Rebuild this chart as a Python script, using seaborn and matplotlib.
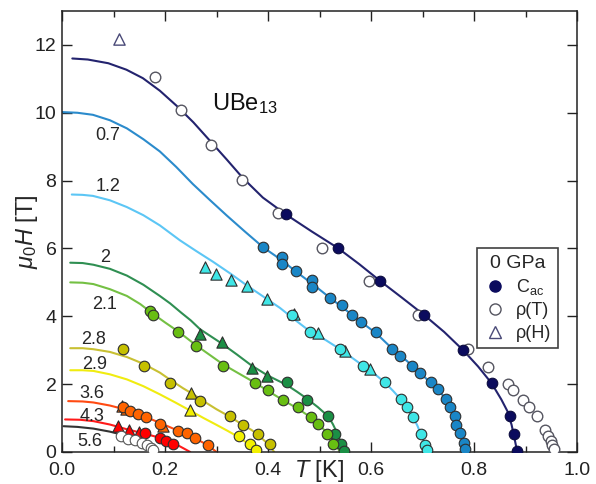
import matplotlib
matplotlib.use("Agg")
import matplotlib.pyplot as plt
import seaborn as sns
import pandas as pd
from matplotlib.lines import Line2D
from matplotlib.ticker import MultipleLocator

# ---------------- data (T in K, mu0H in T) ----------------
pressures = ["0", "0.7", "1.2", "2", "2.1", "2.8", "2.9", "3.6", "4.3", "5.6"]
line_colors = ["#23236e", "#2b8bcc", "#5cc6f5", "#2f8f52", "#74c043",
               "#c8c032", "#f0ec10", "#ff4a12", "#ff1a1a", "#333333"]
point_colors = ["#0b0b5e", "#1a86c6", "#3fe6e6", "#1b8f45", "#68be12",
                "#c6c000", "#f2f000", "#ff6400", "#ff0000", "#ffffff"]

# phase-boundary curves
line_T_0 = [0.02, 0.05, 0.09, 0.125, 0.157, 0.19, 0.223, 0.255, 0.287, 0.32, 0.351, 0.39, 0.435, 0.485,
            0.535, 0.577, 0.618, 0.66, 0.703, 0.742, 0.779, 0.808, 0.834, 0.853, 0.865, 0.873, 0.878, 0.884]
line_H_0 = [11.6, 11.57, 11.46, 11.27, 11.02, 10.65, 10.2, 9.72, 9.18, 8.62, 8.08, 7.5, 7.0, 6.5,
            6.02, 5.54, 5.04, 4.55, 4.04, 3.54, 3.0, 2.52, 2.03, 1.55, 1.2, 0.8, 0.45, 0.0]
line_T_07 = [0.0, 0.03, 0.06, 0.093, 0.126, 0.158, 0.19, 0.222, 0.254, 0.287, 0.32, 0.355, 0.391, 0.427,
             0.454, 0.485, 0.52, 0.55, 0.581, 0.61, 0.641, 0.67, 0.695, 0.715, 0.731, 0.746, 0.757,
             0.766, 0.773, 0.78, 0.785]
line_H_07 = [10.02, 10.0, 9.94, 9.78, 9.54, 9.22, 8.86, 8.4, 7.9, 7.43, 6.97, 6.5, 6.03, 5.65,
             5.32, 4.97, 4.55, 4.2, 3.83, 3.5, 3.05, 2.68, 2.34, 2.05, 1.82, 1.55, 1.3,
             0.9, 0.6, 0.3, 0.0]
line_T_12 = [0.019, 0.04, 0.06, 0.093, 0.126, 0.158, 0.19, 0.229, 0.26, 0.293, 0.326, 0.359, 0.391, 0.423,
             0.452, 0.482, 0.512, 0.540, 0.563, 0.585, 0.607, 0.627, 0.643, 0.658, 0.67, 0.681, 0.69,
             0.697, 0.704, 0.709]
line_H_12 = [7.59, 7.58, 7.55, 7.42, 7.22, 6.98, 6.68, 6.24, 5.93, 5.61, 5.27, 4.91, 4.58, 4.25,
             3.9, 3.55, 3.3, 3.03, 2.78, 2.54, 2.3, 2.05, 1.8, 1.55, 1.3, 1.04, 0.78,
             0.52, 0.25, 0.0]
line_T_2 = [0.016, 0.04, 0.061, 0.093, 0.126, 0.158, 0.19, 0.21, 0.232, 0.25, 0.268, 0.29, 0.31, 0.34,
            0.368, 0.40, 0.436, 0.456, 0.475, 0.497, 0.517, 0.526, 0.533, 0.54, 0.548]
line_H_2 = [5.58, 5.57, 5.52, 5.4, 5.2, 4.93, 4.6, 4.38, 4.1, 3.88, 3.62, 3.4, 3.2, 2.87,
            2.55, 2.25, 1.98, 1.78, 1.58, 1.32, 1.05, 0.82, 0.6, 0.33, 0.0]
line_T_21 = [0.016, 0.04, 0.061, 0.093, 0.126, 0.152, 0.177, 0.2, 0.226, 0.26, 0.287, 0.313, 0.345,
             0.375, 0.40, 0.43, 0.458, 0.483, 0.5, 0.515, 0.527, 0.535, 0.54]
line_H_21 = [5.0, 4.99, 4.95, 4.8, 4.6, 4.36, 4.07, 3.82, 3.55, 3.15, 2.86, 2.58, 2.3,
             2.04, 1.8, 1.52, 1.28, 1.02, 0.8, 0.55, 0.3, 0.12, 0.0]
line_T_28 = [0.016, 0.04, 0.061, 0.093, 0.126, 0.158, 0.19, 0.21, 0.235, 0.255, 0.28, 0.30, 0.326,
             0.351, 0.368, 0.381, 0.394, 0.404, 0.412]
line_H_28 = [3.06, 3.06, 3.03, 2.95, 2.8, 2.6, 2.34, 2.13, 1.88, 1.7, 1.45, 1.26, 1.04,
             0.8, 0.65, 0.5, 0.32, 0.17, 0.0]
line_T_29 = [0.016, 0.04, 0.061, 0.093, 0.126, 0.158, 0.19, 0.22, 0.249, 0.275, 0.30, 0.322, 0.343,
             0.358, 0.368, 0.376]
line_H_29 = [2.41, 2.41, 2.39, 2.29, 2.14, 1.94, 1.7, 1.46, 1.22, 1.0, 0.8, 0.62, 0.44,
             0.28, 0.15, 0.0]
line_T_36 = [0.012, 0.04, 0.061, 0.093, 0.126, 0.158, 0.19, 0.225, 0.258, 0.283, 0.30]
line_H_36 = [1.5, 1.49, 1.46, 1.37, 1.24, 1.06, 0.86, 0.63, 0.41, 0.2, 0.0]
line_T_43 = [0.006, 0.035, 0.061, 0.093, 0.126, 0.158, 0.19, 0.22, 0.249]
line_H_43 = [0.96, 0.95, 0.91, 0.81, 0.67, 0.55, 0.42, 0.24, 0.0]
line_T_56 = [0.003, 0.03, 0.061, 0.093, 0.119, 0.15, 0.171, 0.18]
line_H_56 = [0.76, 0.74, 0.69, 0.6, 0.5, 0.33, 0.17, 0.0]

# 0 GPa measurements
cac_T_0 = [0.435, 0.535, 0.618, 0.703, 0.779, 0.834, 0.870, 0.877, 0.883]
cac_H_0 = [7.03, 6.02, 5.04, 4.04, 3.0, 2.03, 1.05, 0.53, 0.04]
rhoT_T_0 = [0.18, 0.231, 0.289, 0.35, 0.419, 0.504, 0.596, 0.692, 0.789, 0.827, 0.866, 0.876, 0.896,
            0.907, 0.923, 0.937, 0.944, 0.949, 0.952, 0.955]
rhoT_H_0 = [11.05, 10.07, 9.04, 8.03, 7.06, 6.02, 5.04, 4.04, 3.03, 2.52, 2.0, 1.82, 1.52,
            1.34, 1.05, 0.65, 0.46, 0.32, 0.2, 0.09]
rhoH_T_0 = [0.11]
rhoH_H_0 = [12.18]

# circles (C_ac) for p > 0
circ_T_07 = [0.391, 0.427, 0.427, 0.454, 0.485, 0.485, 0.520, 0.543, 0.563, 0.581, 0.61, 0.641, 0.656, 0.679,
             0.695, 0.717, 0.731, 0.746, 0.753, 0.763, 0.766, 0.773, 0.781, 0.783]
circ_H_07 = [6.03, 5.75, 5.53, 5.34, 5.07, 4.86, 4.55, 4.33, 4.04, 3.82, 3.53, 3.03, 2.83, 2.54,
             2.34, 2.05, 1.85, 1.55, 1.34, 1.05, 0.81, 0.55, 0.26, 0.08]
circ_T_12 = [0.446, 0.482, 0.540, 0.585, 0.627, 0.658, 0.669, 0.681, 0.697, 0.705, 0.709]
circ_H_12 = [4.04, 3.55, 3.03, 2.54, 2.05, 1.55, 1.34, 1.04, 0.52, 0.22, 0.05]
circ_T_2 = [0.436, 0.475, 0.517, 0.531, 0.542, 0.547]
circ_H_2 = [2.06, 1.54, 1.05, 0.53, 0.25, 0.03]
circ_T_21 = [0.171, 0.177, 0.226, 0.26, 0.313, 0.375, 0.40, 0.43, 0.458, 0.483, 0.498, 0.515, 0.527]
circ_H_21 = [4.17, 4.03, 3.55, 3.13, 2.54, 2.04, 1.83, 1.53, 1.34, 1.04, 0.82, 0.53, 0.24]
circ_T_28 = [0.118, 0.159, 0.21, 0.267, 0.326, 0.351, 0.381, 0.404]
circ_H_28 = [3.03, 2.54, 2.03, 1.5, 1.06, 0.81, 0.54, 0.25]
circ_T_29 = [0.343, 0.366, 0.376]
circ_H_29 = [0.46, 0.25, 0.05]
circ_T_36 = [0.119, 0.132, 0.148, 0.163, 0.19, 0.225, 0.242, 0.258, 0.283]
circ_H_36 = [1.33, 1.22, 1.13, 1.03, 0.83, 0.62, 0.55, 0.42, 0.22]
circ_T_43 = [0.161, 0.19, 0.202, 0.216]
circ_H_43 = [0.55, 0.42, 0.33, 0.23]
circ_T_56 = [0.115, 0.128, 0.142, 0.155, 0.165, 0.172, 0.177]
circ_H_56 = [0.46, 0.39, 0.35, 0.28, 0.2, 0.12, 0.05]

# triangles (rho(H)) for p > 0
tri_T_12 = [0.278, 0.299, 0.328, 0.359, 0.399, 0.450, 0.498, 0.55, 0.598]
tri_H_12 = [5.45, 5.25, 5.07, 4.88, 4.51, 4.06, 3.52, 2.98, 2.44]
tri_T_2 = [0.268, 0.31, 0.368, 0.398]
tri_H_2 = [3.48, 3.25, 2.48, 2.23]
tri_T_28 = [0.25]
tri_H_28 = [1.73]
tri_T_29 = [0.249]
tri_H_29 = [1.25]
tri_T_36 = [0.116, 0.125, 0.197]
tri_H_36 = [1.36, 1.27, 0.76]
tri_T_43 = [0.109, 0.131, 0.149]
tri_H_43 = [0.77, 0.65, 0.6]

# pressure labels (GPa) and their positions
label_text = ["0.7", "1.2", "2", "2.1", "2.8", "2.9", "3.6", "4.3", "5.6"]
label_T = [0.089, 0.089, 0.083, 0.083, 0.061, 0.064, 0.058, 0.058, 0.054]
label_H = [9.34, 7.82, 5.74, 4.36, 3.33, 2.59, 1.73, 1.06, 0.32]

# ---------------- plotting ----------------
sns.set_style("ticks")
plt.rcParams["font.family"] = ["Liberation Sans", "DejaVu Sans"]
plt.rcParams["mathtext.fontset"] = "custom"
plt.rcParams["mathtext.rm"] = "Liberation Sans"
plt.rcParams["mathtext.it"] = "Liberation Sans:italic"

fig = plt.figure(figsize=(5.96, 4.84), dpi=100)
ax = fig.add_axes([62 / 596, 1 - 452 / 484, 515 / 596, 441 / 484])

lines = [(line_T_0, line_H_0), (line_T_07, line_H_07), (line_T_12, line_H_12),
         (line_T_2, line_H_2), (line_T_21, line_H_21), (line_T_28, line_H_28),
         (line_T_29, line_H_29), (line_T_36, line_H_36), (line_T_43, line_H_43),
         (line_T_56, line_H_56)]
for (lt, lh), c in zip(lines, line_colors):
    df = pd.DataFrame({"T": lt, "H": lh})
    sns.lineplot(data=df, x="T", y="H", sort=False, estimator=None, color=c,
                 lw=1.5, ax=ax, zorder=2)

edge = "#2e2e2e"
ms = 58
circ_sets = [("0.7", circ_T_07, circ_H_07), ("1.2", circ_T_12, circ_H_12),
             ("2", circ_T_2, circ_H_2), ("2.1", circ_T_21, circ_H_21),
             ("2.8", circ_T_28, circ_H_28), ("2.9", circ_T_29, circ_H_29),
             ("3.6", circ_T_36, circ_H_36), ("4.3", circ_T_43, circ_H_43),
             ("5.6", circ_T_56, circ_H_56)]
tri_sets = [("1.2", tri_T_12, tri_H_12), ("2", tri_T_2, tri_H_2),
            ("2.8", tri_T_28, tri_H_28), ("2.9", tri_T_29, tri_H_29),
            ("3.6", tri_T_36, tri_H_36), ("4.3", tri_T_43, tri_H_43)]

for p, tt, hh in tri_sets:
    c = point_colors[pressures.index(p)]
    sns.scatterplot(x=tt, y=hh, marker="^", s=ms + 8, color=c, edgecolor=edge,
                    linewidth=0.8, ax=ax, zorder=3)
for p, tt, hh in circ_sets:
    c = point_colors[pressures.index(p)]
    ec = "#555555" if p == "5.6" else edge
    sns.scatterplot(x=tt, y=hh, marker="o", s=ms, color=c, edgecolor=ec,
                    linewidth=0.8, ax=ax, zorder=4)

# 0 GPa
sns.scatterplot(x=rhoT_T_0, y=rhoT_H_0, marker="o", s=ms, color="white",
                edgecolor="#555560", linewidth=1.0, ax=ax, zorder=4)
sns.scatterplot(x=rhoH_T_0, y=rhoH_H_0, marker="^", s=ms + 8, color="white",
                edgecolor="#4a4a78", linewidth=1.0, ax=ax, zorder=4)
sns.scatterplot(x=cac_T_0, y=cac_H_0, marker="o", s=ms, color=point_colors[0],
                edgecolor="#0b0b3e", linewidth=0.8, ax=ax, zorder=5)

for t, x, y in zip(label_text, label_T, label_H):
    ax.text(x, y, t, fontsize=13, color="#262626", ha="center", va="center")
ax.text(0.355, 10.28, "UBe$_{13}$", fontsize=17, color="#111111",
        ha="center", va="center")

ax.set_xlim(0, 1.0)
ax.set_ylim(0, 13)
ax.xaxis.set_major_locator(MultipleLocator(0.2))
ax.xaxis.set_minor_locator(MultipleLocator(0.1))
ax.yaxis.set_major_locator(MultipleLocator(2))
ax.set_xticks([0.0, 0.2, 0.4, 0.6, 0.8, 1.0])
ax.set_xticklabels(["0.0", "0.2", "0.4", "0.6", "0.8", "1.0"])
ax.tick_params(which="both", direction="in", top=True, right=True,
               labelsize=14, width=1.0, colors="#222222")
ax.tick_params(axis="x", which="major", length=7, pad=7)
ax.tick_params(axis="y", which="major", length=7, pad=4)
ax.tick_params(which="minor", length=4)
for s in ax.spines.values():
    s.set_linewidth(1.1)
    s.set_color("#222222")
    s.set_visible(True)

ax.set_xlabel("$T$ [K]", fontsize=17, labelpad=-15)
ax.set_ylabel("$\\mu_0H$ [T]", fontsize=17, labelpad=-4)

handles = [
    Line2D([], [], ls="none", marker="o", ms=8, mfc=point_colors[0], mec=point_colors[0]),
    Line2D([], [], ls="none", marker="o", ms=8, mfc="white", mec="#555560", mew=1.0),
    Line2D([], [], ls="none", marker="^", ms=8.5, mfc="white", mec="#4a4a78", mew=1.0),
]
leg = ax.legend(handles, ["C$_{\\mathrm{ac}}$", "ρ(T)", "ρ(H)"], title="0 GPa",
                loc="upper right", bbox_to_anchor=(0.963, 0.462), fontsize=13,
                title_fontsize=14, frameon=True, fancybox=False, handletextpad=0.6,
                handlelength=1.2, borderpad=0.35, labelspacing=0.3, borderaxespad=0)
leg.get_frame().set_edgecolor("#111111")
leg.get_frame().set_linewidth(1.2)
leg.set_zorder(6)

fig.savefig("out.png", dpi=100)
